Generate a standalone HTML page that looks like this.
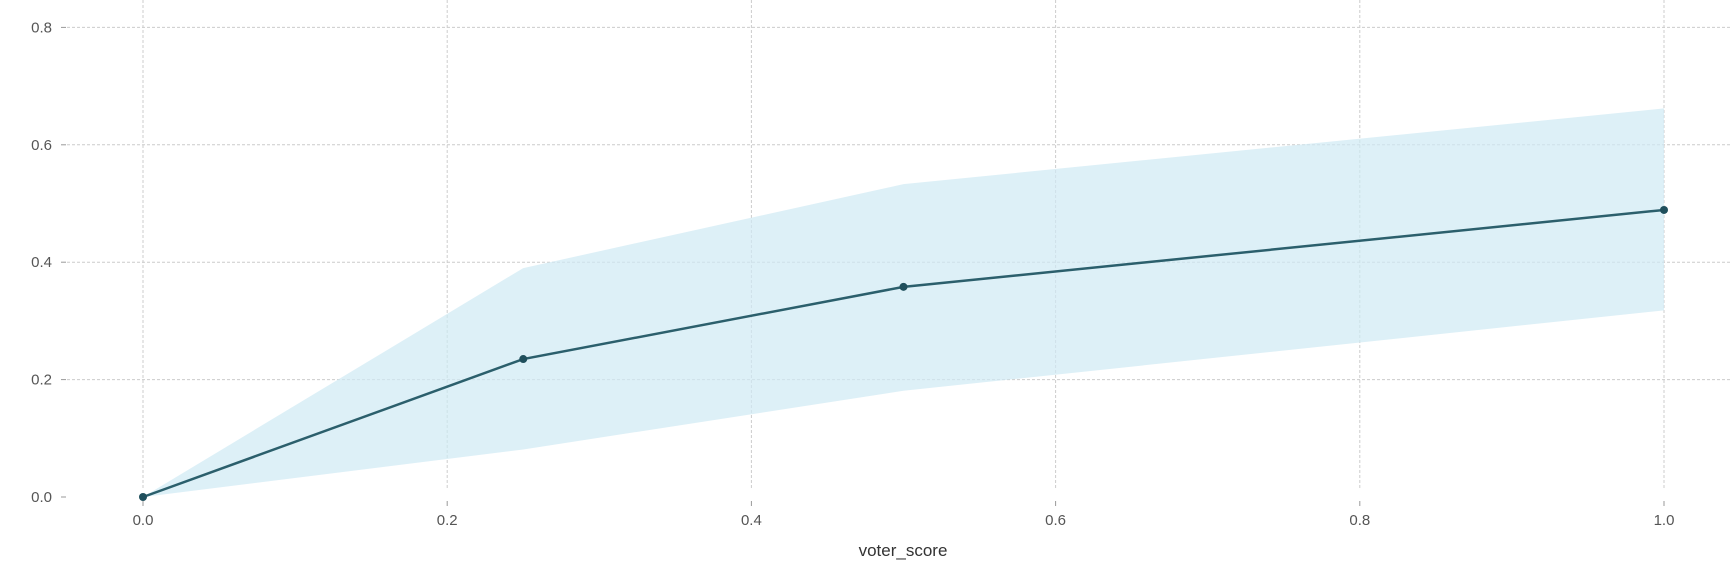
<!DOCTYPE html>
<html><head><meta charset="utf-8"><style>
body{margin:0;background:#fff;}
svg text{font-family:"Liberation Sans",sans-serif;font-size:15px;fill:#555;}
</style></head><body>
<svg width="1732" height="570" id="c">
<g id="grid"></g>
<g id="band"></g>
<g id="line"></g>
<g id="ax"></g>
<text x="903" y="556" text-anchor="middle" style="font-size:17px;fill:#333">voter_score</text>
</svg>
<script>
const xs=[0,0.25,0.5,1.0];
const ys=[0,0.235,0.358,0.489];
const upper=[0,0.39,0.533,0.662];
const lower=[0,0.081,0.181,0.318];
const xTicks=[0,0.2,0.4,0.6,0.8,1.0];
const yTicks=[0,0.2,0.4,0.6,0.8];
const X=v=>143+v*1521, Y=v=>497-v*587;
const NS='http://www.w3.org/2000/svg';
function mk(p,t,a){const e=document.createElementNS(NS,t);for(const k in a)e.setAttribute(k,a[k]);document.getElementById(p).appendChild(e);return e;}
xTicks.forEach(t=>{
 const l=mk('grid','line',{x1:X(t),x2:X(t),y1:0,y2:488,stroke:'#ccc','stroke-dasharray':'3,2','stroke-width':1});
 
 
 const m=mk('ax','line',{x1:X(t),x2:X(t),y1:501,y2:506,stroke:'#999'});
 
 
 const tx=mk('ax','text',{x:X(t),y:525,'text-anchor':'middle'});tx.textContent=t.toFixed(1);
 
 
});
yTicks.forEach(t=>{
 if(t>0){
 const l=mk('grid','line',{x1:67,x2:1732,y1:Y(t),y2:Y(t),stroke:'#ccc','stroke-dasharray':'3,2','stroke-width':1});
 
 
 }
 const m=mk('ax','line',{x1:61,x2:66,y1:Y(t),y2:Y(t),stroke:'#999'});
 
 
 const tx=mk('ax','text',{x:52,y:Y(t)+5,'text-anchor':'end'});tx.textContent=t.toFixed(1);
 
 
});
let pts=xs.map((x,i)=>X(x)+','+Y(upper[i])).concat(xs.map((x,i)=>X(x)+','+Y(lower[i])).reverse());
const b=mk('band','polygon',{points:pts.join(' '),fill:'#cfe9f3','fill-opacity':0.7});


const pl=mk('line','polyline',{points:xs.map((x,i)=>X(x)+','+Y(ys[i])).join(' '),fill:'none',stroke:'#2b5f6c','stroke-width':2.5});


xs.forEach((x,i)=>{const c=mk('line','circle',{cx:X(x),cy:Y(ys[i]),r:4,fill:'#1f4f5c'});
 
 });
</script>
</body></html>
